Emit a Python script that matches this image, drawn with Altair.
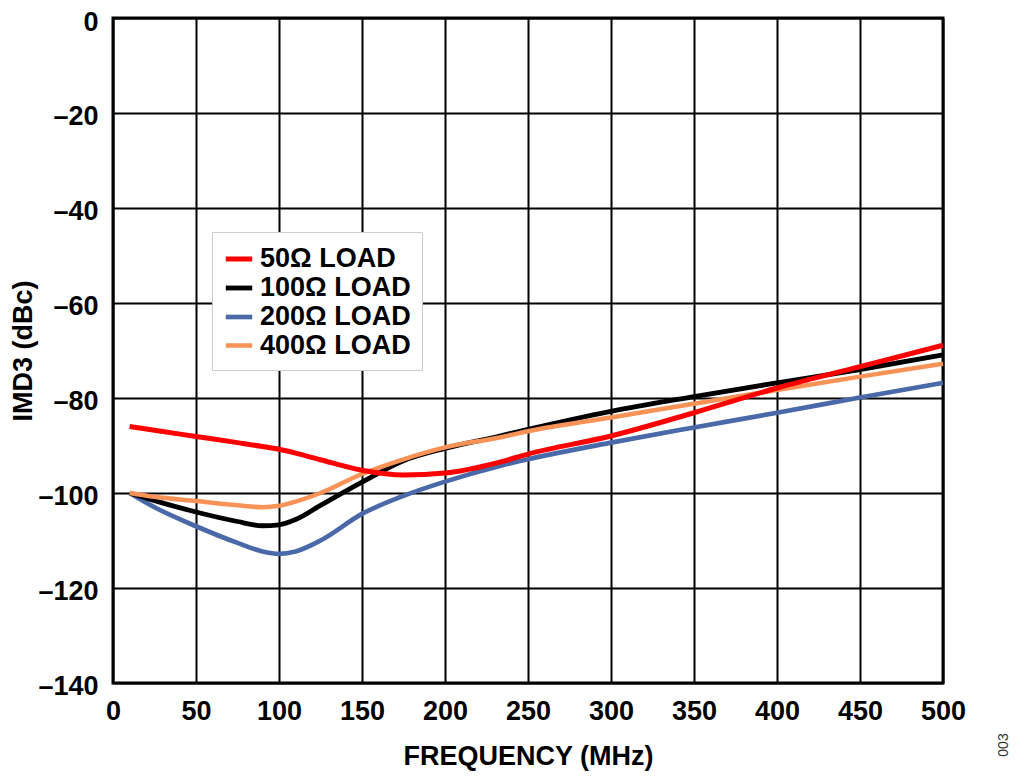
import altair as alt
import pandas as pd

freq = [10, 25, 50, 75, 90, 100, 110, 125, 150, 175, 200, 233, 250, 300, 350, 400, 450, 500]
imd3_50 = [-86.0, -86.8, -88.1, -89.4, -90.2, -90.8, -91.6, -93.0, -95.2, -96.2, -95.8, -93.5, -91.8, -88.0, -83.1, -77.9, -73.4, -68.9]
imd3_100 = [-100.0, -101.6, -104.0, -106.0, -106.9, -106.7, -105.6, -102.6, -97.7, -93.2, -90.6, -88.0, -86.6, -82.8, -79.7, -76.8, -74.0, -70.9]
imd3_200 = [-100.0, -103.0, -107.0, -110.5, -112.3, -112.8, -112.3, -110.0, -104.4, -100.6, -97.6, -94.3, -92.9, -89.4, -86.2, -83.1, -79.9, -76.8]
imd3_400 = [-100.0, -100.8, -101.7, -102.6, -103.0, -102.7, -101.8, -100.0, -96.0, -92.9, -90.4, -88.3, -87.0, -84.1, -81.2, -78.3, -75.5, -72.8]

series = ["50Ω LOAD", "100Ω LOAD", "200Ω LOAD", "400Ω LOAD"]
colors = ["#FF0000", "#000000", "#4A69A8", "#F99256"]
widths = [5, 4.5, 3.5, 3]
x_ticks = list(range(0, 501, 50))
y_ticks = list(range(-140, 1, 20))

rows = []
for name, vals in zip(series, [imd3_50, imd3_100, imd3_200, imd3_400]):
    for f, v in zip(freq, vals):
        rows.append({"freq": f, "imd3": v, "load": name})
df = pd.DataFrame(rows)

FONT = "Liberation Sans"

legend_spec = dict(
    orient="none", legendX=99, legendY=214, title=None,
    labelFont=FONT, labelFontSize=27, labelFontWeight="bold", labelColor="black",
    symbolType="stroke", symbolSize=700, fillColor="white", strokeColor="#cccccc",
    padding=11, rowPadding=0, labelOffset=5,
)

x_enc = alt.X("freq:Q", scale=alt.Scale(domain=[0, 500], nice=False),
              axis=alt.Axis(values=x_ticks, title="FREQUENCY (MHz)", labelPadding=15,
                            titlePadding=19, labelFlush=False))
y_enc = alt.Y("imd3:Q", scale=alt.Scale(domain=[-140, 0], nice=False),
              axis=alt.Axis(values=y_ticks, title="IMD3 (dBc)", labelPadding=15, titlePadding=0,
                            labelOffset={"condition": {"test": "datum.value == 0", "value": 4}, "value": 3},
                            labelExpr="datum.value < 0 ? '\u2013' + abs(datum.value) : '' + datum.value"))
color_enc = alt.Color("load:N", scale=alt.Scale(domain=series, range=colors), legend=alt.Legend(**legend_spec))
sw_enc = alt.StrokeWidth("load:N", scale=alt.Scale(domain=series, range=widths), legend=alt.Legend(**legend_spec))

def line_layer(name):
    return alt.Chart(df).transform_filter(alt.datum.load == name).mark_line(
        interpolate="monotone", strokeCap="butt"
    ).encode(x=x_enc, y=y_enc, color=color_enc, strokeWidth=sw_enc)

layers = [line_layer(series[2]), line_layer(series[1]), line_layer(series[3]), line_layer(series[0])]

note = alt.Chart(pd.DataFrame({"t": ["003"]})).mark_text(
    angle=270, fontSize=14, font=FONT, color="#333333", align="center", baseline="middle"
).encode(x=alt.value(891), y=alt.value(727), text="t:N")

chart = alt.layer(*layers, note).properties(
    width=830, height=665,
    autosize=alt.AutoSizeParams(type="none"),
    padding={"left": 105, "top": 10, "right": 73, "bottom": 89},
).configure_axis(
    grid=True, gridColor="black", gridWidth=2, gridOpacity=1,
    domain=False, ticks=False,
    labelFont=FONT, labelFontSize=27, labelFontWeight="bold", labelColor="black",
    titleFont=FONT, titleFontSize=27, titleFontWeight="bold", titleColor="black",
).configure_view(stroke="black", strokeWidth=3)

chart.save("out.html", embed_options={"renderer": "svg", "actions": False})
